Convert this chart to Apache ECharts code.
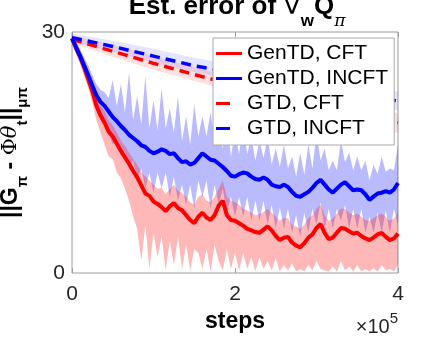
<!DOCTYPE html>
<html>
<head>
<meta charset="utf-8">
<script src="https://cdn.jsdelivr.net/npm/echarts@6/dist/echarts.min.js"></script>
<style>
html, body { margin: 0; padding: 0; background: #fff; }
#chart { width: 423px; height: 340px; }
</style>
</head>
<body>
<div id="chart"></div>
<script>
// sample positions (steps), every 5000 steps from 0 to 4e5
var steps = Array.from({ length: 81 }, function (_, i) { return i * 5000; });
var stepsCoarse = [0, 50000, 100000, 150000, 200000, 250000, 300000, 350000, 400000];

var xTicks = [0, 200000, 400000];
var yTicks = [0, 30];

// GenTD, CFT (red solid) mean + band
var genCft = [29.2, 28.0, 26.9, 25.6, 24.1, 22.6, 20.8, 19.6, 18.7, 17.6,
  17.0, 16.1, 15.2, 14.4, 13.6, 12.7, 11.9, 10.9, 9.9, 9.6,
  8.9, 8.6, 8.2, 7.7, 8.3, 8.7, 8.1, 7.8, 7.2, 6.6,
  6.2, 7.0, 7.5, 6.9, 6.6, 7.2, 8.4, 9.0, 7.2, 6.6,
  6.5, 6.2, 5.9, 5.5, 5.3, 5.1, 5.0, 5.4, 5.8, 5.3,
  4.6, 4.1, 4.4, 4.5, 3.8, 3.4, 3.2, 3.7, 4.4, 4.8,
  5.6, 6.1, 5.0, 4.2, 4.4, 5.0, 5.6, 5.5, 5.2, 4.9,
  5.0, 4.6, 4.3, 4.1, 4.4, 4.8, 5.0, 4.5, 4.1, 4.3, 4.9];
var genCftLo = [28.5, 27.2, 26.0, 24.5, 23.0, 21.2, 19.0, 17.5, 16.0, 14.5,
  14.2, 12.5, 11.8, 10.5, 9.0, 7.0, 5.5, 1.5, 6.0, 0.5,
  5.0, 2.0, 4.5, 0.3, 4.0, 1.0, 4.5, 0.5, 3.5, 0.3,
  3.0, 2.5, 0.5, 3.0, 0.2, 3.5, 1.5, 0.3, 3.0, 0.5,
  2.5, 0.3, 2.5, 0.5, 2.0, 0.2, 2.0, 0.5, 1.5, 0.3,
  1.8, 0.2, 1.0, 0.3, 1.2, 0.2, 0.5, 0.2, 1.0, 0.3,
  1.5, 0.5, 0.3, 0.2, 0.8, 0.2, 1.5, 0.3, 0.8, 0.2,
  1.0, 0.2, 0.5, 0.2, 0.6, 0.2, 1.0, 0.3, 0.5, 0.2, 1.0];
var genCftHi = [29.6, 28.8, 27.8, 26.6, 25.2, 23.8, 22.3, 21.0, 20.2, 19.0,
  18.4, 17.5, 16.5, 15.8, 15.0, 14.2, 13.5, 12.5, 12.0, 11.5,
  11.0, 10.5, 10.6, 9.8, 10.5, 11.0, 10.2, 10.0, 9.5, 8.8,
  8.5, 9.5, 9.8, 9.0, 8.8, 9.5, 10.5, 11.5, 9.5, 9.0,
  8.8, 8.5, 8.0, 7.8, 7.5, 7.2, 7.3, 7.6, 8.0, 7.5,
  7.0, 6.5, 6.8, 6.8, 6.0, 5.8, 5.5, 6.0, 6.8, 7.2,
  8.0, 8.5, 7.2, 6.5, 6.8, 7.4, 8.0, 8.0, 7.5, 7.2,
  7.4, 7.0, 6.6, 6.5, 6.8, 7.2, 7.4, 7.0, 6.5, 6.8, 7.5];

// GenTD, INCFT (blue solid) mean + band
var genInc = [29.2, 28.1, 27.0, 25.8, 24.6, 23.3, 22.1, 21.3, 20.8, 20.1,
  19.4, 18.9, 18.3, 17.8, 17.2, 16.8, 16.4, 15.9, 15.7, 15.2,
  14.9, 15.1, 15.4, 15.2, 14.8, 14.9, 14.3, 13.8, 13.9, 13.5,
  13.7, 14.3, 14.9, 14.5, 14.1, 14.0, 13.6, 13.2, 12.7, 12.1,
  12.0, 12.3, 12.5, 12.4, 12.0, 11.7, 11.6, 11.9, 11.6, 11.0,
  10.8, 10.7, 11.0, 10.7, 10.1, 9.6, 9.5, 9.8, 10.1, 10.6,
  11.2, 11.6, 11.0, 10.4, 10.0, 10.5, 11.0, 11.3, 10.8, 10.3,
  10.4, 10.3, 9.8, 9.1, 9.5, 9.9, 10.0, 10.2, 10.0, 10.4, 11.2];
var genIncLo = [28.7, 27.4, 26.2, 24.8, 23.4, 22.0, 20.6, 19.6, 18.8, 17.5,
  16.0, 16.5, 14.5, 15.2, 12.8, 14.0, 11.5, 13.0, 10.5, 12.5,
  10.0, 12.5, 10.5, 12.5, 9.5, 12.0, 9.0, 11.0, 8.5, 11.0,
  8.0, 11.5, 9.5, 11.5, 8.0, 11.0, 8.5, 10.5, 7.5, 9.5,
  7.0, 9.5, 7.0, 9.5, 6.5, 9.0, 6.5, 9.0, 6.0, 8.5,
  5.5, 8.2, 5.5, 8.0, 5.0, 7.2, 4.5, 7.5, 5.0, 8.0,
  6.0, 8.8, 5.5, 8.0, 5.5, 8.0, 6.5, 8.5, 5.5, 8.0,
  5.5, 8.0, 5.0, 7.0, 5.0, 7.5, 5.0, 7.8, 5.0, 8.0, 6.0];
var genIncHi = [29.7, 28.8, 27.8, 26.8, 25.8, 24.6, 23.5, 22.8, 22.5, 21.8,
  24.0, 20.8, 23.5, 20.0, 25.0, 19.0, 22.0, 18.5, 24.5, 18.0,
  21.5, 17.8, 23.0, 18.0, 20.5, 17.5, 22.0, 16.5, 19.5, 16.0,
  21.0, 17.0, 19.5, 17.0, 20.0, 16.5, 18.5, 15.5, 19.0, 14.5,
  17.5, 14.8, 18.5, 14.8, 17.0, 14.0, 16.5, 14.3, 17.0, 13.5,
  15.5, 13.2, 16.0, 13.0, 14.5, 12.0, 15.0, 12.2, 16.0, 13.0,
  17.5, 14.0, 15.5, 12.8, 14.0, 12.8, 16.5, 13.8, 15.0, 12.8,
  14.5, 12.8, 14.0, 11.5, 13.5, 12.3, 14.5, 12.6, 13.0, 12.8, 16.0];

// GTD (dashed) means + faint bands, every 50000 steps
var gtdCft = [29.1, 27.6, 26.1, 24.7, 23.4, 22.2, 21.0, 19.8, 18.7];
var gtdCftLo = [28.6, 26.9, 25.3, 23.9, 22.5, 21.2, 20.0, 18.7, 17.4];
var gtdCftHi = [29.6, 28.4, 27.0, 25.6, 24.3, 23.2, 22.0, 20.9, 19.9];
var gtdInc = [29.3, 28.2, 27.0, 25.8, 24.9, 24.0, 23.1, 22.2, 21.4];
var gtdIncLo = [28.8, 27.5, 26.2, 25.0, 24.0, 23.0, 22.1, 21.1, 20.2];
var gtdIncHi = [29.8, 28.9, 27.9, 26.8, 25.9, 25.1, 24.2, 23.4, 22.6];

function pairs(xs, ys) {
  return xs.map(function (x, i) { return [x, ys[i]]; });
}

// shaded band between lo and hi, drawn as one polygon through the axes
function band(xs, lo, hi, color) {
  return {
    type: 'custom', silent: true, z: 1,
    data: [[xs[0], lo[0]]],
    renderItem: function (params, api) {
      var pts = [];
      for (var i = 0; i < xs.length; i++) pts.push(api.coord([xs[i], hi[i]]));
      for (var j = xs.length - 1; j >= 0; j--) pts.push(api.coord([xs[j], lo[j]]));
      return { type: 'polygon', shape: { points: pts }, style: { fill: color } };
    }
  };
}

var RED = '#ff0000', BLUE = '#0000ff';

var series = [
  band(stepsCoarse, gtdCftLo, gtdCftHi, 'rgba(255,0,0,0.12)'),
  band(stepsCoarse, gtdIncLo, gtdIncHi, 'rgba(0,0,255,0.10)'),
  band(steps, genIncLo, genIncHi, 'rgba(0,0,255,0.27)'),
  band(steps, genCftLo, genCftHi, 'rgba(255,0,0,0.28)'),
  { name: 'GTD, CFT', type: 'line', data: pairs(stepsCoarse, gtdCft), symbol: 'none', z: 3,
    lineStyle: { color: RED, width: 3.5, type: [10, 6] }, itemStyle: { color: RED } },
  { name: 'GTD, INCFT', type: 'line', data: pairs(stepsCoarse, gtdInc), symbol: 'none', z: 3,
    lineStyle: { color: BLUE, width: 3.5, type: [10, 6] }, itemStyle: { color: BLUE } },
  { name: 'GenTD, CFT', type: 'line', data: pairs(steps, genCft), symbol: 'none', z: 4,
    lineStyle: { color: RED, width: 4 }, itemStyle: { color: RED } },
  { name: 'GenTD, INCFT', type: 'line', data: pairs(steps, genInc), symbol: 'none', z: 5,
    lineStyle: { color: BLUE, width: 4 }, itemStyle: { color: BLUE } }
];

var solidIcon = 'path://M0,0h26v3h-26z';
var dashIcon = 'path://M0,0h14v3h-14zM25.9,0h0.1v3h-0.1z';

var myChart = echarts.init(document.getElementById('chart'));
var option = {
  animation: false,
  grid: { left: 72, right: 25, top: 32, bottom: 67, outerBoundsMode: 'none',
    show: true, borderColor: '#9a9a9a', borderWidth: 1 },
  xAxis: [{
    type: 'value', min: 0, max: 400000, interval: 200000,
    axisLine: { show: false },
    axisTick: { inside: true, length: 5, lineStyle: { color: '#9a9a9a' } },
    axisLabel: { margin: 11, fontSize: 21, color: '#262626', fontFamily: 'Liberation Sans',
      formatter: function (v) { return xTicks.indexOf(v) >= 0 ? String(v / 100000) : ''; } },
    splitLine: { show: false }
  }, {
    type: 'value', position: 'top', min: 0, max: 400000, interval: 200000,
    axisLine: { show: false },
    axisTick: { inside: true, length: 5, lineStyle: { color: '#9a9a9a' } },
    axisLabel: { show: false }, splitLine: { show: false }
  }],
  yAxis: {
    type: 'value', min: 0, max: 30, interval: 30,
    axisLine: { show: false },
    axisTick: { show: false },
    axisLabel: { margin: 7, fontSize: 21, color: '#262626', fontFamily: 'Liberation Sans',
      formatter: function (v) { return yTicks.indexOf(v) >= 0 ? String(v) : ''; } },
    splitLine: { show: false },
    name: '{b|||G}{s|π}{b| - }{f|Φ}{n|θ}{s|t}{b|||}{s|μπ}',
    nameLocation: 'middle', nameRotate: 90, nameGap: 31,
    nameTextStyle: {
      color: '#000',
      rich: {
        b: { fontSize: 23, fontWeight: 'bold', fontFamily: 'Liberation Sans', lineHeight: 40, verticalAlign: 'middle', color: '#000' },
        f: { fontSize: 21, fontFamily: 'DejaVu Serif', lineHeight: 40, verticalAlign: 'middle', color: '#000' },
        n: { fontSize: 21, fontFamily: 'DejaVu Serif', fontStyle: 'italic', lineHeight: 40, verticalAlign: 'middle', color: '#000' },
        s: { fontSize: 15, fontWeight: 'bold', fontFamily: 'Liberation Sans', lineHeight: 15, verticalAlign: 'bottom', color: '#000' }
      }
    }
  },
  legend: {
    left: 213, top: 38, orient: 'vertical',
    backgroundColor: '#fff', borderColor: '#a8a8a8', borderWidth: 1,
    padding: [5, 6, 6, 3], itemGap: 4, itemWidth: 26, itemHeight: 4,
    textStyle: { fontSize: 21, color: '#000', fontFamily: 'Liberation Sans', lineHeight: 21 },
    data: [
      { name: 'GenTD, CFT', icon: solidIcon, itemStyle: { color: RED } },
      { name: 'GenTD, INCFT', icon: solidIcon, itemStyle: { color: BLUE } },
      { name: 'GTD, CFT', icon: dashIcon, itemStyle: { color: RED } },
      { name: 'GTD, INCFT', icon: dashIcon, itemStyle: { color: BLUE } }
    ],
    selectedMode: false
  },
  graphic: [
    { type: 'text', x: 237, y: 7, z: 10,
      style: {
        text: '{b|Est. error of }{n|∇}{w|w}{b|Q}{p|π}',
        textAlign: 'center', textVerticalAlign: 'middle',
        rich: {
          b: { fontSize: 26, fontWeight: 'bold', fontFamily: 'Liberation Sans', lineHeight: 46, verticalAlign: 'middle', fill: '#000' },
          n: { fontSize: 26, fontFamily: 'DejaVu Sans', fontWeight: 'normal', lineHeight: 46, verticalAlign: 'middle', fill: '#000' },
          w: { fontSize: 17, fontWeight: 'bold', fontFamily: 'Liberation Sans', lineHeight: 17, verticalAlign: 'bottom', fill: '#000' },
          p: { fontSize: 17, fontStyle: 'italic', fontFamily: 'DejaVu Serif', lineHeight: 17, verticalAlign: 'bottom', fill: '#000' }
        }
      } },
    { type: 'text', x: 235, y: 322, z: 10,
      style: { text: 'steps', textAlign: 'center', textVerticalAlign: 'middle',
        fontSize: 23, fontWeight: 'bold', fontFamily: 'Liberation Sans', fill: '#000' } },
    { type: 'text', x: 398, y: 311.5, z: 10,
      style: {
        text: '{m|×10}{u|5}', textAlign: 'right', textVerticalAlign: 'top',
        rich: {
          m: { fontSize: 20, fontFamily: 'Liberation Sans', lineHeight: 26, verticalAlign: 'bottom', fill: '#262626' },
          u: { fontSize: 15, fontFamily: 'Liberation Sans', lineHeight: 15, verticalAlign: 'top', fill: '#262626' }
        }
      } }
  ],
  series: series
};
myChart.setOption(option);
</script>
</body>
</html>
